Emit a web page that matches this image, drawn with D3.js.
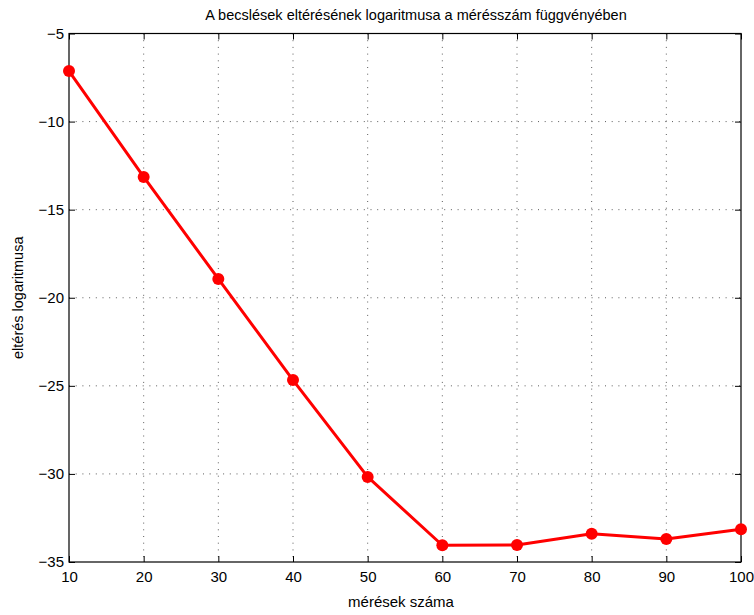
<!DOCTYPE html>
<html>
<head>
<meta charset="utf-8">
<script src="https://cdn.jsdelivr.net/npm/d3@7"></script>
<style>
  html, body { margin: 0; padding: 0; background: #fff; }
  svg text { font-family: "Liberation Sans", Arial, Helvetica, sans-serif; fill: #000; }
</style>
</head>
<body>
<svg id="chart" width="754" height="615"></svg>
<script>
// measurement counts and log deviation
const measurements = [10, 20, 30, 40, 50, 60, 70, 80, 90, 100];
const logError = [-7.13, -13.14, -18.93, -24.67, -30.17, -34.05, -34.04, -33.4, -33.7, -33.14];
const xTicks = [10, 20, 30, 40, 50, 60, 70, 80, 90, 100];
const yTicks = [-5, -10, -15, -20, -25, -30, -35];

const titleText = 'A becslések eltérésének logaritmusa a mérésszám függvényében';
const xLabel = 'mérések száma';
const yLabel = 'eltérés logaritmusa';

const margin = { top: 33.5, right: 13, bottom: 53, left: 69 };
const width = 754, height = 615;
const innerWidth = width - margin.left - margin.right;
const innerHeight = height - margin.top - margin.bottom;

const svg = d3.select('#chart');
const g = svg.append('g')
  .attr('transform', `translate(${margin.left},${margin.top})`);

const x = d3.scaleLinear().domain([10, 100]).range([0, innerWidth]);
const y = d3.scaleLinear().domain([-35, -5]).range([innerHeight, 0]);

const fmt = d => d < 0 ? '\u2212' + Math.abs(d) : String(d);

// grid (dotted)
const grid = g.append('g').attr('class', 'grid');
grid.selectAll('line.vx')
  .data(xTicks.slice(1, -1))
  .join('line')
  .attr('x1', d => x(d)).attr('x2', d => x(d))
  .attr('y1', 0).attr('y2', innerHeight)
  .attr('stroke', '#333').attr('stroke-width', 0.8)
  .attr('stroke-dasharray', '1,5.7');
grid.selectAll('line.hy')
  .data(yTicks.slice(1, -1))
  .join('line')
  .attr('x1', 0).attr('x2', innerWidth)
  .attr('y1', d => y(d)).attr('y2', d => y(d))
  .attr('stroke', '#333').attr('stroke-width', 0.8)
  .attr('stroke-dasharray', '1,5.7');

// axes with inward ticks
const tickLen = 6;
const xAxisB = g.append('g')
  .attr('transform', `translate(0,${innerHeight})`)
  .call(d3.axisBottom(x).tickValues(xTicks).tickSize(-tickLen).tickPadding(9).tickFormat(fmt));
const xAxisT = g.append('g')
  .call(d3.axisTop(x).tickValues(xTicks).tickSize(-tickLen).tickFormat(''));
const yAxisL = g.append('g')
  .call(d3.axisLeft(y).tickValues(yTicks).tickSize(-tickLen).tickPadding(5).tickFormat(fmt));
const yAxisR = g.append('g')
  .attr('transform', `translate(${innerWidth},0)`)
  .call(d3.axisRight(y).tickValues(yTicks).tickSize(-tickLen).tickFormat(''));

[xAxisB, xAxisT, yAxisL, yAxisR].forEach(a => {
  a.select('.domain').remove();
  a.selectAll('.tick line').attr('stroke', '#000').attr('stroke-width', 1);
  a.selectAll('.tick text').style('font-size', '15px');
});
yAxisL.selectAll('.tick text').attr('dy', '0.32em');

// axes box
g.append('rect')
  .attr('x', 0).attr('y', 0)
  .attr('width', innerWidth).attr('height', innerHeight)
  .attr('fill', 'none').attr('stroke', '#000').attr('stroke-width', 1.2);

// data line
const pts = measurements.map((m, i) => ({ m, v: logError[i] }));
g.append('path')
  .datum(pts)
  .attr('fill', 'none')
  .attr('stroke', '#ff0000')
  .attr('stroke-width', 3)
  .attr('stroke-linejoin', 'round')
  .attr('d', d3.line().x(d => x(d.m)).y(d => y(d.v)));

g.selectAll('circle.pt')
  .data(pts)
  .join('circle')
  .attr('class', 'pt')
  .attr('cx', d => x(d.m))
  .attr('cy', d => y(d.v))
  .attr('r', 6)
  .attr('fill', '#ff0000');

// title and labels
svg.append('text')
  .attr('x', margin.left + innerWidth / 2 + 11)
  .attr('y', 20)
  .attr('text-anchor', 'middle')
  .style('font-size', '14.5px')
  .text(titleText);

svg.append('text')
  .attr('x', 401)
  .attr('y', 607)
  .attr('text-anchor', 'middle')
  .style('font-size', '15px')
  .text(xLabel);

svg.append('text')
  .attr('transform', `translate(23,${margin.top + innerHeight / 2}) rotate(-90)`)
  .attr('text-anchor', 'middle')
  .style('font-size', '14.5px')
  .text(yLabel);
</script>
</body>
</html>
